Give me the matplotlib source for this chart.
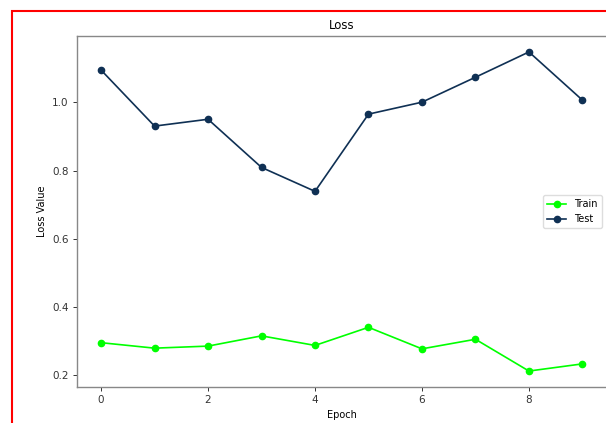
import matplotlib
matplotlib.use("Agg")
import matplotlib.pyplot as plt
from matplotlib.patches import Rectangle

# loss per epoch
epochs = [0, 1, 2, 3, 4, 5, 6, 7, 8, 9]
train_loss = [0.296, 0.280, 0.286, 0.316, 0.288, 0.341, 0.278, 0.306, 0.213, 0.234]
test_loss = [1.094, 0.930, 0.950, 0.809, 0.739, 0.965, 1.000, 1.073, 1.147, 1.006]
xticks = [0, 2, 4, 6, 8]
yticks = [0.2, 0.4, 0.6, 0.8, 1.0]

fig = plt.figure(figsize=(6.06, 4.23), dpi=100)
ax = fig.add_axes([77 / 606, (423 - 387) / 423, 529.5 / 606, 351 / 423])

ax.plot(epochs, train_loss, color="#00ff00", marker="o", markersize=4.5, linewidth=1.2, label="Train")
ax.plot(epochs, test_loss, color="#0f3054", marker="o", markersize=4.5, linewidth=1.2, label="Test")

ax.set_xticks(xticks)
ax.set_yticks(yticks)
ax.tick_params(labelsize=7.5, length=3, width=0.7, colors="#333333", pad=3)
for s in ax.spines.values():
    s.set_color("#888888")
    s.set_linewidth(1.0)

ax.set_title("Loss", fontsize=8.5, pad=5)
ax.set_xlabel("Epoch", fontsize=7, labelpad=3)
ax.set_ylabel("Loss Value", fontsize=7, labelpad=4)
ax.legend(loc="center right", fontsize=7, framealpha=1, edgecolor="#dddddd")

# red frame around the screenshot
fig.patches.append(Rectangle((12 / 606, -0.1), 1.2, 1 - 11.5 / 423 + 0.1,
                             transform=fig.transFigure, fill=False,
                             edgecolor="red", linewidth=1.5, clip_on=False))

fig.savefig("out.png", dpi=100)
